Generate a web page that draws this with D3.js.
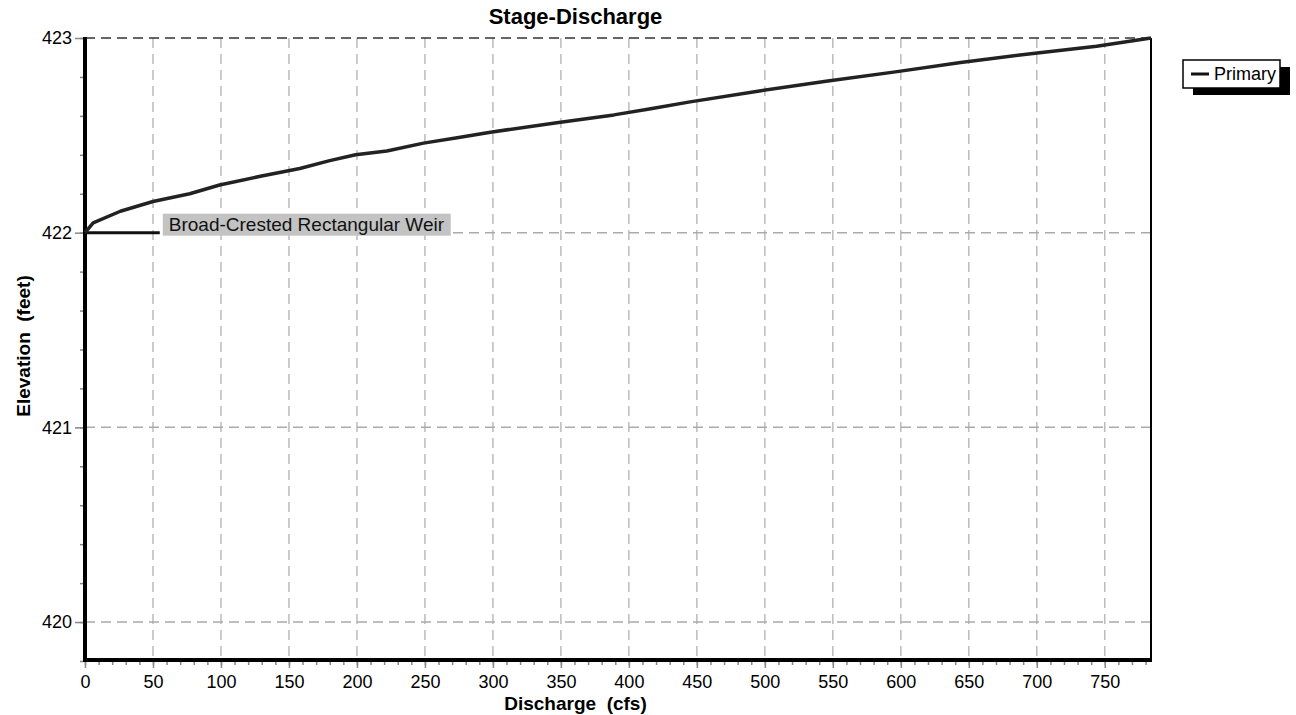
<!DOCTYPE html>
<html>
<head>
<meta charset="utf-8">
<script src="https://cdn.jsdelivr.net/npm/d3@7"></script>
<style>
  body { margin: 0; background: #fff; }
  text { font-family: "Liberation Sans", Arial, sans-serif; }
</style>
</head>
<body>
<div id="chart"></div>
<script>
// Stage-discharge curve
const discharge = [0, 6, 26, 50, 77, 99, 129, 158, 180, 199, 222, 249, 276, 297, 347, 389, 415, 445, 496, 545, 596, 644, 694, 744, 784]
const elevation = [422.00, 422.05, 422.11, 422.16, 422.20, 422.245, 422.29, 422.33, 422.37, 422.40, 422.42, 422.46, 422.49, 422.515, 422.565, 422.605, 422.635, 422.672, 422.728, 422.778, 422.826, 422.874, 422.918, 422.958, 423.00]

const xTicks = [0, 50, 100, 150, 200, 250, 300, 350, 400, 450, 500, 550, 600, 650, 700, 750]
const yTicks = [420, 421, 422, 423]

const weirLabel = 'Broad-Crested Rectangular Weir'
const weirElevation = 422
const weirExtent = [0, 55]
const seriesName = 'Primary'

const width = 1296
const height = 715
const margin = {left: 85, right: 145, top: 38, bottom: 55}

const svg = d3.select('#chart').append('svg')
  .attr('width', width)
  .attr('height', height)

const xScale = d3.scaleLinear().domain([0, 784]).range([margin.left, width - margin.right])
const yScale = d3.scaleLinear().domain([419.805, 423]).range([height - margin.bottom, margin.top])

const x0 = xScale.range()[0], x1 = xScale.range()[1]
const y0 = yScale.range()[0], y1 = yScale.range()[1]

// grid
svg.append('g').selectAll('line')
  .data(xTicks.filter(d => d > 0))
  .enter().append('line')
  .attr('x1', d => xScale(d)).attr('x2', d => xScale(d))
  .attr('y1', y1).attr('y2', y0)
  .attr('stroke', '#bbb').attr('stroke-width', 1.5)
  .attr('stroke-dasharray', '10,6')

svg.append('g').selectAll('line')
  .data(yTicks)
  .enter().append('line')
  .attr('x1', x0).attr('x2', x1)
  .attr('y1', d => yScale(d)).attr('y2', d => yScale(d))
  .attr('stroke', d => d === 423 ? '#333' : '#aaa').attr('stroke-width', 1.5)
  .attr('stroke-dasharray', '10,6')

// axes
const xAxis = d3.axisBottom(xScale).tickValues(xTicks).tickSize(8).tickPadding(7)
const xMinor = d3.axisBottom(xScale).tickValues(d3.range(0, 790, 10)).tickSize(5).tickFormat('')
const yAxis = d3.axisLeft(yScale).tickValues(yTicks).tickSize(10).tickPadding(3).tickFormat(d3.format('d'))
const yMinor = d3.axisLeft(yScale).tickValues(d3.range(419.8, 423.01, 0.2)).tickSize(5).tickFormat('')

function styleAxis (g) {
  g.select('.domain').remove()
  g.attr('font-size', null).attr('font-family', null)
  g.selectAll('.tick line').attr('stroke', '#888').attr('stroke-width', 1.5)
  g.selectAll('.tick text').attr('fill', '#000').style('font-size', '18px')
}

svg.append('g').attr('transform', `translate(0,${y0})`).call(xMinor).call(styleAxis)
svg.append('g').attr('transform', `translate(0,${y0})`).call(xAxis).call(styleAxis)
svg.append('g').attr('transform', `translate(${x0},0)`).call(yMinor).call(styleAxis)
svg.append('g').attr('transform', `translate(${x0},0)`).call(yAxis).call(styleAxis)

// frame
svg.append('line')
  .attr('x1', x1).attr('x2', x1).attr('y1', y1).attr('y2', y0)
  .attr('stroke', '#000').attr('stroke-width', 2)
svg.append('line')
  .attr('x1', x0).attr('x2', x0).attr('y1', y1 - 1).attr('y2', y0 + 2)
  .attr('stroke', '#000').attr('stroke-width', 4)
svg.append('line')
  .attr('x1', x0 - 2).attr('x2', x1 + 1).attr('y1', y0).attr('y2', y0)
  .attr('stroke', '#000').attr('stroke-width', 4)

// weir crest marker and label
svg.append('line')
  .attr('x1', xScale(weirExtent[0])).attr('x2', xScale(weirExtent[1]))
  .attr('y1', yScale(weirElevation)).attr('y2', yScale(weirElevation))
  .attr('stroke', '#111').attr('stroke-width', 3)

const label = svg.append('g')
const labelText = label.append('text')
  .attr('x', xScale(weirExtent[1]) + 9)
  .attr('y', yScale(weirElevation) - 2)
  .style('font-size', '19px')
  .attr('fill', '#111')
  .text(weirLabel)
const bb = labelText.node().getBBox()
label.insert('rect', 'text')
  .attr('x', bb.x - 6).attr('y', yScale(weirElevation) - 19)
  .attr('width', bb.width + 12).attr('height', 22)
  .attr('fill', '#c3c3c3')

// curve
const line = d3.line()
  .x(d => xScale(d[0]))
  .y(d => yScale(d[1]))

svg.append('path')
  .datum(discharge.map((d, i) => [d, elevation[i]]))
  .attr('d', line)
  .attr('fill', 'none')
  .attr('stroke', '#222')
  .attr('stroke-width', 3.5)
  .attr('stroke-linejoin', 'round')

// titles (centred on 0..right edge of plot, as in the original)
const midX = x1 / 2
svg.append('text')
  .attr('x', midX).attr('y', 24)
  .attr('text-anchor', 'middle')
  .style('font-size', '22px').style('font-weight', 'bold')
  .text('Stage-Discharge')

svg.append('text')
  .attr('x', midX).attr('y', 710)
  .attr('text-anchor', 'middle')
  .style('font-size', '19px').style('font-weight', 'bold')
  .style('white-space', 'pre')
  .text('Discharge  (cfs)')

svg.append('text')
  .attr('transform', `translate(30,346) rotate(-90)`)
  .attr('text-anchor', 'middle')
  .style('font-size', '19px').style('font-weight', 'bold')
  .style('white-space', 'pre')
  .text('Elevation  (feet)')

// legend
const legend = svg.append('g').attr('transform', 'translate(1183,60)')
legend.append('rect')
  .attr('x', 10).attr('y', 7).attr('width', 97).attr('height', 28)
  .attr('fill', '#000')
legend.append('rect')
  .attr('x', 0).attr('y', 0).attr('width', 97).attr('height', 28)
  .attr('fill', '#fff').attr('stroke', '#000').attr('stroke-width', 1.5)
legend.append('line')
  .attr('x1', 8).attr('x2', 26).attr('y1', 14).attr('y2', 14)
  .attr('stroke', '#111').attr('stroke-width', 3)
legend.append('text')
  .attr('x', 31).attr('y', 20)
  .style('font-size', '18px')
  .text(seriesName)
</script>
</body>
</html>
